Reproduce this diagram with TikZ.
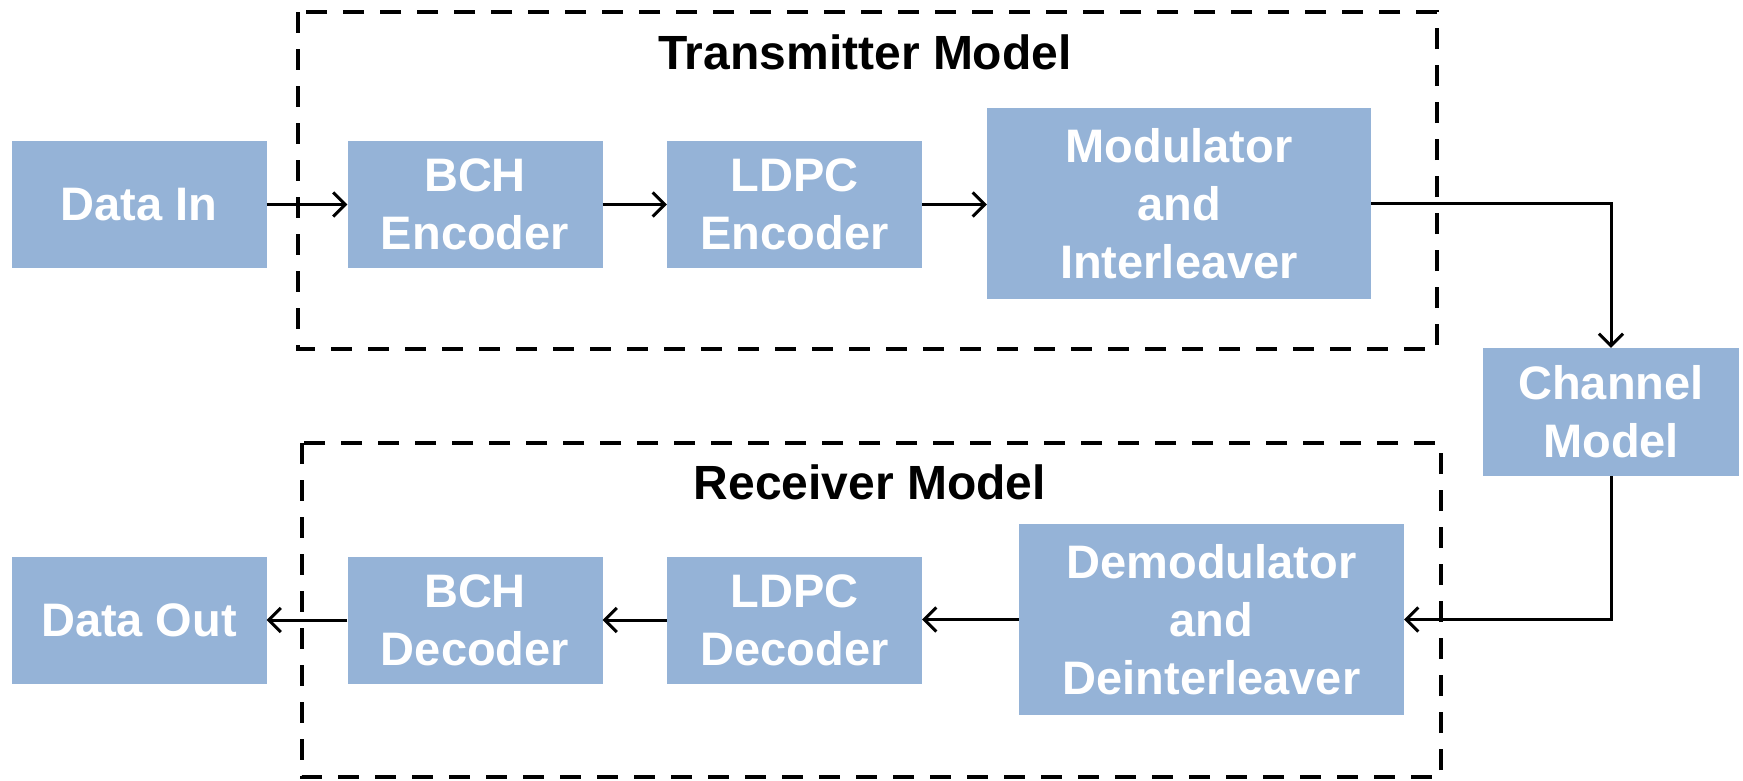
\documentclass[tikz,border=0pt]{standalone}
\usepackage{fontspec}
\setmainfont{Liberation Sans}
\usetikzlibrary{arrows.meta}
\definecolor{boxblue}{HTML}{95B3D7}
\begin{document}
\begin{tikzpicture}[x=1pt,y=-1pt,
  blk/.style={fill=boxblue, draw=none, inner sep=0pt, align=center, text=white,
    font=\fontsize{47}{58}\selectfont\bfseries},
  small/.style={blk, minimum width=255pt, minimum height=127pt},
  big/.style={blk, minimum width=384pt, minimum height=191pt},
  grp/.style={draw=black, line width=4pt, dash pattern=on 21pt off 16pt},
  ttl/.style={anchor=base, inner sep=0pt, font=\fontsize{48}{58}\selectfont\bfseries},
  conn/.style={draw=black, line width=3pt, -{Straight Barb[length=12pt,width=24pt,line width=3pt]}}]
\useasboundingbox (0,0) rectangle (1743,780);

% group boxes
\draw[grp] (298,12) rectangle (1437,349);
\draw[grp] (302,443) rectangle (1441,777);
\node[ttl] (ttx) at (865,69) {Transmitter Model};
\node[ttl] (trx) at (870,499) {Receiver Model};

% transmitter chain
\node[small] (datain) at (139,204.5) {Data In};
\node[small] (bchenc) at (475,204.5) {BCH\\Encoder};
\node[small] (ldpcenc) at (794.5,204.5) {LDPC\\Encoder};
\node[big] (mod) at (1179,203.5) {Modulator\\and\\Interleaver};

% channel
\node[small, minimum width=256pt, minimum height=128pt] (chan) at (1611,412) {Channel\\Model};

% receiver chain
\node[small] (dataout) at (139,620) {Data Out};
\node[small] (bchdec) at (475,620) {BCH\\Decoder};
\node[small] (ldpcdec) at (794.5,620) {LDPC\\Decoder};
\node[big, minimum width=385pt] (demod) at (1211.5,619.5) {Demodulator\\and\\Deinterleaver};

% connectors
\draw[conn] (datain.east) -- (bchenc.west);
\draw[conn] (bchenc.east) -- (ldpcenc.west);
\draw[conn] (ldpcenc.east) -- (mod.west |- ldpcenc.east);
\draw[conn] (mod.east) -| (chan.north);
\draw[conn] (chan.south) |- (demod.east);
\draw[conn] (demod.west) -- (ldpcdec.east |- demod.west);
\draw[conn] (ldpcdec.west) -- (bchdec.east);
\draw[conn] (bchdec.west) -- (dataout.east);
\end{tikzpicture}
\end{document}
